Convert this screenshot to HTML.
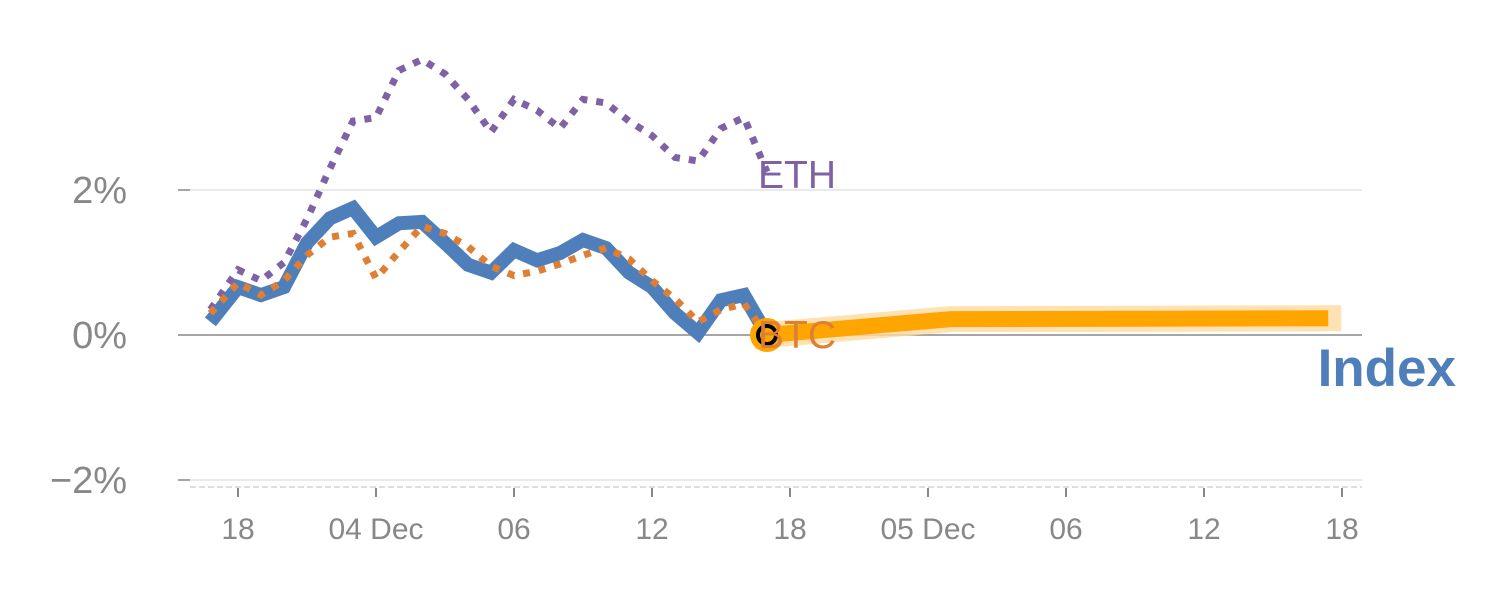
<!DOCTYPE html>
<html><head><meta charset="utf-8"><style>
body{margin:0;background:#fff;}
svg{display:block;font-family:"Liberation Sans",Arial,sans-serif;}
</style></head><body>
<svg id="chart" width="1500" height="600"></svg>
<script>
const hours=[-1.2,0,1,2,3,4,5,6,7,8,9,10,11,12,13,14,15,16,17,18,19,20,21,22,23];
const indexVals=[0.18,0.66,0.55,0.66,1.27,1.61,1.75,1.35,1.54,1.56,1.27,0.97,0.86,1.17,1.03,1.13,1.31,1.2,0.86,0.66,0.3,0.03,0.48,0.55,0.0];
const btcVals=[0.3,0.72,0.55,0.75,1.1,1.35,1.4,0.78,1.15,1.5,1.4,1.22,0.95,0.82,0.88,0.98,1.1,1.2,1.05,0.75,0.5,0.18,0.35,0.43,0.0];
const ethVals=[0.35,0.9,0.75,1.0,1.6,2.3,2.95,3.0,3.65,3.8,3.6,3.25,2.8,3.25,3.1,2.85,3.25,3.2,2.95,2.75,2.45,2.4,2.85,3.0,2.25];
const fcHours=[23,31,47.4];
const fcVals=[0,0.22,0.23];
const yTicks=[2,0,-2];
const yTickLabels=["2%","0%","\u22122%"];
const xTickHours=[0,6,12,18,24,30,36,42,48];
const xTickLabels=["18","04 Dec","06","12","18","05 Dec","06","12","18"];

const NS="http://www.w3.org/2000/svg";
const svg=document.getElementById('chart');
const X=h=>238+h*23;
const Y=v=>335-v*72.5;
function mk(tag,attrs,parent){const e=document.createElementNS(NS,tag);for(const k in attrs)e.setAttribute(k,attrs[k]);(parent||svg).appendChild(e);return e;}
function pts(hs,vs){return hs.map((h,i)=>X(h).toFixed(1)+','+Y(vs[i]).toFixed(1)).join(' ');}

yTicks.forEach((v,i)=>{
  const g=mk('line',{x1:190,x2:1362,y1:Y(v),y2:Y(v),stroke:v===0?'#888':'#e3e3e3','stroke-width':1.5});
  
  
  const tk=mk('line',{x1:178,x2:190,y1:Y(v),y2:Y(v),stroke:'#888','stroke-width':1.5});
  
  
  const t=mk('text',{x:127,y:Y(v)+13,'text-anchor':'end','font-size':38,fill:'#888'});
  t.textContent=yTickLabels[i];
  
  
});
const xb=mk('line',{x1:190,x2:1362,y1:487,y2:487,stroke:'#ddd','stroke-width':2,'stroke-dasharray':'6,3'});


xTickHours.forEach((h,i)=>{
  const tk=mk('line',{x1:X(h),x2:X(h),y1:488,y2:497,stroke:'#888','stroke-width':2});
  
  
  const t=mk('text',{x:X(h),y:539,'text-anchor':'middle','font-size':30,fill:'#888'});
  t.textContent=xTickLabels[i];
  
  
});
const fb=mk('polyline',{points:pts(fcHours,fcVals),fill:'none',stroke:'#ffd9a0','stroke-width':26,'stroke-linejoin':'round','stroke-linecap':'square','stroke-opacity':0.8});


const fl=mk('polyline',{points:pts(fcHours,fcVals),fill:'none',stroke:'#ffa500','stroke-width':16});


const eth=mk('polyline',{points:pts(hours,ethVals),fill:'none',stroke:'#7f62a6','stroke-width':7,'stroke-dasharray':'7,9'});


const idx=mk('polyline',{points:pts(hours,indexVals),fill:'none',stroke:'#4e7fbb','stroke-width':14,'stroke-linejoin':'miter'});


const btc=mk('polyline',{points:pts(hours,btcVals),fill:'none',stroke:'#de7f34','stroke-width':7,'stroke-dasharray':'7,9'});


const cx=X(hours[hours.length-1]), cy=Y(indexVals[indexVals.length-1]);
const m1=mk('circle',{cx:cx,cy:cy,r:17,fill:'#ffa500'});


const m2=mk('circle',{cx:cx,cy:cy,r:9,fill:'none',stroke:'#000','stroke-width':4});


const le=mk('text',{x:758,y:188,'font-size':39,fill:'#7f62a6'});le.textContent='ETH';


const lb=mk('text',{x:758,y:348,'font-size':39,fill:'#de7f34'});lb.textContent='BTC';


const li=mk('text',{x:1456,y:386,'font-size':53,'font-weight':'bold','text-anchor':'end',fill:'#4e7fbb'});li.textContent='Index';


</script>
</body></html>
